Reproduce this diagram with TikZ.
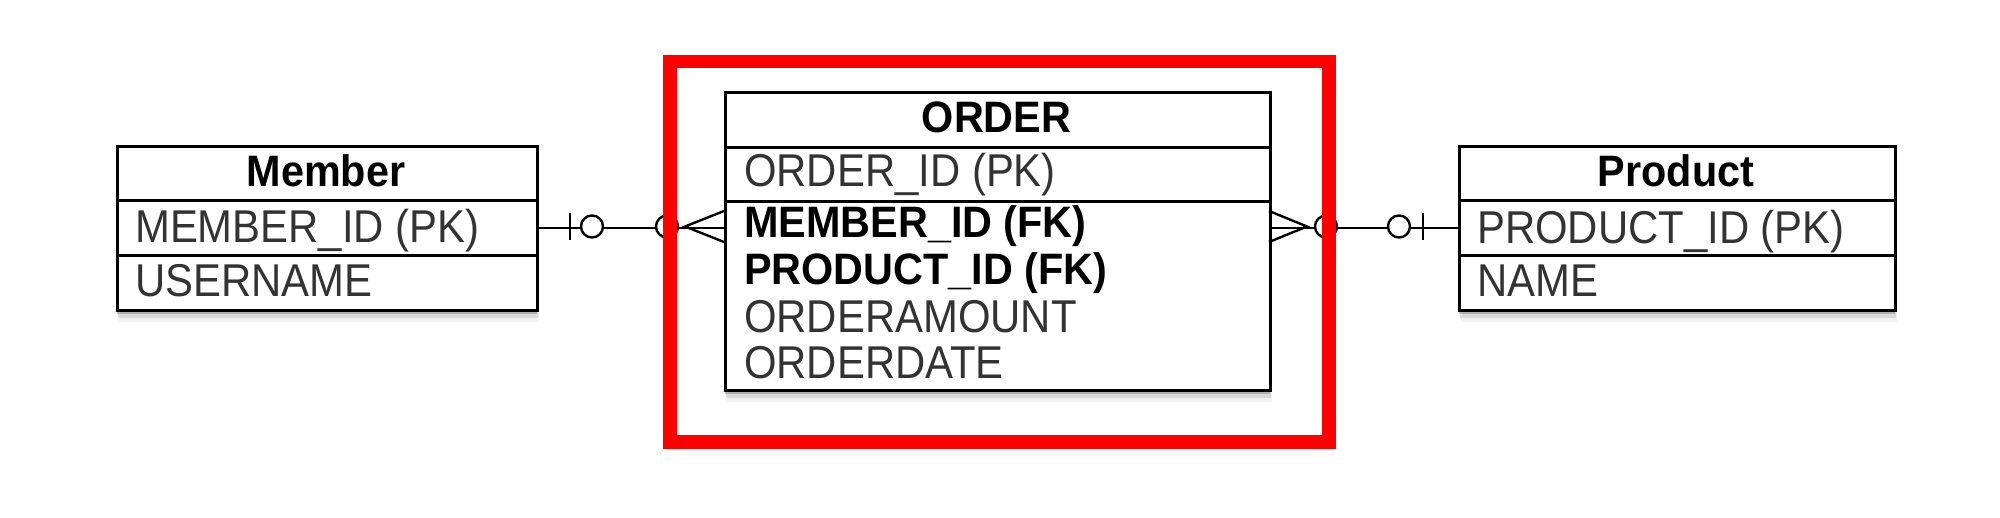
\documentclass[tikz,border=0pt]{standalone}
\usepackage{fontspec}
\setmainfont{Liberation Sans}
\newfontfamily\attrfont[FakeStretch=0.91]{Liberation Sans}
\newfontfamily\headfont[FakeStretch=0.94]{Liberation Sans}
\usetikzlibrary{shadows}
\tikzset{
  tblframe/.style={draw=none, fill=white, inner sep=0pt, anchor=north west,
    drop shadow={shadow xshift=3pt, shadow yshift=-13pt, opacity=0.1},
    drop shadow={shadow xshift=2pt, shadow yshift=-9pt, opacity=0.22},
    drop shadow={shadow xshift=1pt, shadow yshift=-5pt, opacity=0.45}},
  cell/.style={draw, line width=2.8pt, inner sep=0pt, anchor=north west, fill=white},
  hd/.style={font=\headfont\bfseries\fontsize{44}{50}\selectfont, anchor=base, inner sep=0pt},
  attrtxt/.style={font=\attrfont\fontsize{46}{50}\selectfont, text=black!80, anchor=base west, inner sep=0pt},
  fktxt/.style={font=\headfont\bfseries\fontsize{44}{50}\selectfont, anchor=base west, inner sep=0pt},
  conn/.style={line width=2.4pt},
  ring/.style={circle, draw, line width=2.4pt, fill=white, minimum size=22pt, inner sep=0pt},
  hilite/.style={draw=red, line width=13.5pt, inner sep=0pt, anchor=north west},
}
\begin{document}
\begin{tikzpicture}[x=1pt, y=-1pt]
\useasboundingbox (0,0) rectangle (2000,518);
% Member
\node[tblframe, minimum width=420pt, minimum height=164pt] (mframe) at (116,145) {};
\node[cell, minimum width=420pt, minimum height=54pt] (mh) at (116,145) {};
\node[cell, minimum width=420pt, minimum height=55pt] (m1) at (116,199) {};
\node[cell, minimum width=420pt, minimum height=55pt] (m2) at (116,254) {};
\node[hd] (mht) at (326,187) {Member};
\node[attrtxt] (m1t) at (135,243) {MEMBER\_ID (PK)};
\node[attrtxt] (m2t) at (135,297) {USERNAME};
% ORDER
\node[tblframe, minimum width=545pt, minimum height=298pt] (oframe) at (724,91) {};
\node[cell, minimum width=545pt, minimum height=55pt] (oh) at (724,91) {};
\node[cell, minimum width=545pt, minimum height=54pt] (o1) at (724,146) {};
\node[cell, minimum width=545pt, minimum height=189pt] (o2) at (724,200) {};
\node[hd] (oht) at (996.5,133) {ORDER};
\node[attrtxt] (o1t) at (744,187) {ORDER\_ID (PK)};
\node[fktxt] (o2t) at (744,238) {MEMBER\_ID (FK)};
\node[fktxt] (o3t) at (744,285) {PRODUCT\_ID (FK)};
\node[attrtxt] (o4t) at (744,333) {ORDERAMOUNT};
\node[attrtxt] (o5t) at (744,379) {ORDERDATE};
% Product
\node[tblframe, minimum width=436pt, minimum height=164pt] (pframe) at (1458,145) {};
\node[cell, minimum width=436pt, minimum height=54pt] (ph) at (1458,145) {};
\node[cell, minimum width=436pt, minimum height=55pt] (p1) at (1458,199) {};
\node[cell, minimum width=436pt, minimum height=55pt] (p2) at (1458,254) {};
\node[hd] (pht) at (1676,187) {Product};
\node[attrtxt] (p1t) at (1477,244) {PRODUCT\_ID (PK)};
\node[attrtxt] (p2t) at (1477,297) {NAME};
% left connector
\draw[conn] (m1.east) -- (m1.east -| o2.west);
\draw[conn] (570,213) -- (570,240);
\node[ring] (lr1) at (592,226.5) {};
\node[ring] (lr2) at (667,226.5) {};
\coordinate (lapex) at (685,226.5);
\draw[conn] (724,211) -- (lapex) -- (724,242);
% right connector
\draw[conn] (o2.east |- p1.west) -- (p1.west);
\draw[conn] (1423,213) -- (1423,240);
\node[ring] (rr1) at (1399,226.5) {};
\node[ring] (rr2) at (1326,226.5) {};
\coordinate (rapex) at (1307,226.5);
\draw[conn] (1269,211) -- (rapex) -- (1269,242);
% highlight
\node[hilite, minimum width=659pt, minimum height=380pt] (hl) at (663,55) {};
\end{tikzpicture}
\end{document}
